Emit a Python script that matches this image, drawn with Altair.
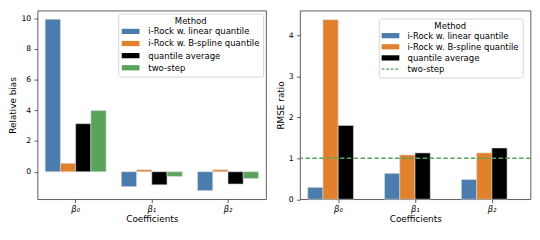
import altair as alt
import pandas as pd

coefficients = ["β₀", "β₁", "β₂"]
methods = ["i-Rock w. linear quantile", "i-Rock w. B-spline quantile",
           "quantile average", "two-step"]
colors = ["#4a7cad", "#e1812c", "#000000", "#59a45a"]

bias_linear = [9.93, -0.97, -1.23]
bias_bspline = [0.55, 0.13, 0.13]
bias_qavg = [3.13, -0.85, -0.80]
bias_twostep = [3.98, -0.30, -0.44]

rmse_linear = [0.29, 0.63, 0.48]
rmse_bspline = [4.38, 1.08, 1.13]
rmse_qavg = [1.80, 1.13, 1.25]
rmse_twostep_ref = [1.0]

bias_ticks = [0, 2, 4, 6, 8, 10]
rmse_ticks = [0, 1, 2, 3, 4]
bias_domain = [-1.79, 10.49]
rmse_domain = [0, 4.6]

bias_rows = []
for m, vals in zip(methods, [bias_linear, bias_bspline, bias_qavg, bias_twostep]):
    for c, v in zip(coefficients, vals):
        bias_rows.append({"Coefficient": c, "Method": m, "value": v})
df_bias = pd.DataFrame(bias_rows)

rmse_rows = []
for m, vals in zip(methods[:3], [rmse_linear, rmse_bspline, rmse_qavg]):
    for c, v in zip(coefficients, vals):
        rmse_rows.append({"Coefficient": c, "Method": m, "value": v})
df_rmse = pd.DataFrame(rmse_rows)
df_rule = pd.DataFrame({"value": rmse_twostep_ref})

FONT = "DejaVu Sans"
FS = 9
FS_LEG = 8.6
FS_TICK = 7.8
rect_path = "M-1.8,-0.53H1.8V0.53H-1.8Z"
line_path = "M-1.8,0H1.8"
GREEN = colors[3]
BAR_STROKE = "#d9d9d9"


def make_legend(**extra):
    kw = dict(
        title="Method", orient="top-right", offset=3,
        padding=3.5, strokeColor="#d5d5d5", fillColor="rgba(255,255,255,0.8)",
        cornerRadius=2, titleFontSize=FS_LEG, titleFontWeight="normal",
        titleAnchor="middle", titleColor="black", titlePadding=1, titleFont=FONT,
        labelFontSize=FS_LEG, labelColor="black", labelFont=FONT,
        symbolSize=100, symbolType=rect_path, symbolOffset=4, labelOffset=13,
        rowPadding=2.3, symbolStrokeWidth=0,
    )
    kw.update(extra)
    return alt.Legend(**kw)


x_enc = alt.X("Coefficient:N", sort=coefficients,
              scale=alt.Scale(paddingInner=0.2, paddingOuter=0.1),
              axis=alt.Axis(title="Coefficients", labelAngle=0,
                            labelFontStyle="italic", labelFontSize=8.5,
                            labelPadding=2, titlePadding=2))

W_L, W_R, H = 232, 234, 191.5

left = alt.Chart(df_bias).mark_bar().encode(
    x=x_enc,
    xOffset=alt.XOffset("Method:N", sort=methods,
                        scale=alt.Scale(domain=methods)),
    y=alt.Y("value:Q", title="Relative bias",
            scale=alt.Scale(domain=bias_domain, nice=False, zero=False),
            axis=alt.Axis(values=bias_ticks)),
    color=alt.Color("Method:N", sort=methods,
                    scale=alt.Scale(domain=methods, range=colors),
                    legend=make_legend()),
    stroke=alt.value(BAR_STROKE),
    strokeWidth=alt.value(0.6),
).properties(width=W_L, height=H)

is_ts = "datum.value === 'two-step'"
right_bars = alt.Chart(df_rmse).mark_bar().encode(
    x=x_enc,
    xOffset=alt.XOffset("Method:N", sort=methods[:3],
                        scale=alt.Scale(domain=methods[:3])),
    y=alt.Y("value:Q", title="RMSE ratio",
            scale=alt.Scale(domain=rmse_domain, nice=False),
            axis=alt.Axis(values=rmse_ticks)),
    color=alt.Color("Method:N", sort=methods,
                    scale=alt.Scale(domain=methods, range=colors),
                    legend=make_legend(
                        offset=8,
                        symbolType=alt.ExprRef(expr=f"{is_ts} ? '{line_path}' : '{rect_path}'"),
                        symbolStrokeColor=alt.ExprRef(expr=f"{is_ts} ? '{GREEN}' : 'transparent'"),
                        symbolDash=alt.ExprRef(expr=f"{is_ts} ? [3, 1.6] : [1, 0]"),
                        symbolStrokeWidth=alt.ExprRef(expr=f"{is_ts} ? 1.3 : 0"),
                    )),
    stroke=alt.value(BAR_STROKE),
    strokeWidth=alt.value(0.6),
)
right_rule = alt.Chart(df_rule).mark_rule(
    color=GREEN, strokeDash=[4.5, 2.5], strokeWidth=1.3
).encode(y=alt.Y("value:Q"))

right = alt.layer(right_bars, right_rule).properties(width=W_R, height=H)

chart = alt.hconcat(left, right, spacing=8.5).resolve_scale(
    color="independent"
).resolve_legend(color="independent").properties(
    padding={"top": 0, "left": 0, "right": 0, "bottom": 0}
).configure(
    font=FONT
).configure_view(
    stroke="#333333", strokeWidth=0.8
).configure_axis(
    grid=False, domain=False, tickSize=3.5, tickWidth=0.8, tickColor="#333333",
    labelFontSize=FS_TICK, labelFont=FONT, labelColor="black", labelPadding=3.5,
    titleFontSize=FS, titleFont=FONT, titleFontWeight="normal", titleColor="black",
    titlePadding=3,
)

chart.save("out.html", embed_options={"renderer": "svg", "actions": False})
